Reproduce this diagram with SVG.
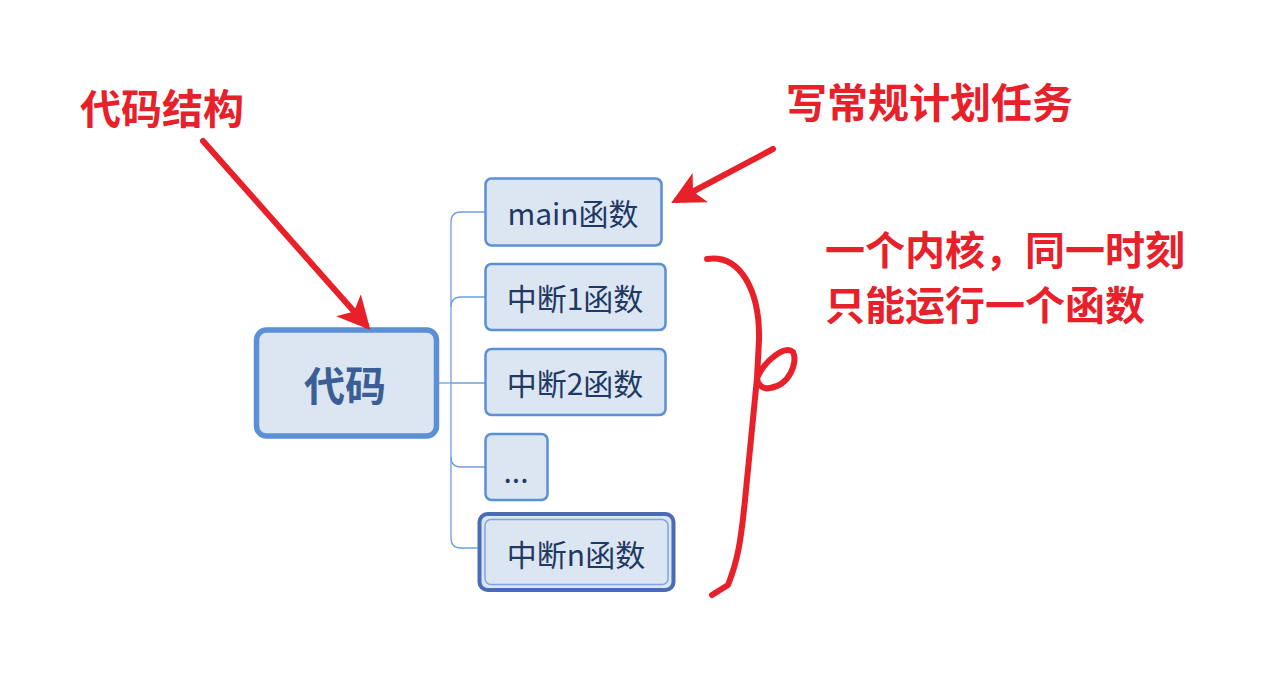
<svg xmlns="http://www.w3.org/2000/svg" width="1272" height="699" viewBox="0 0 1272 699">
<defs>
<style>
.node{fill:#dce6f2;stroke:#5b8fd6;stroke-width:2.5}
.t{font-family:"Noto Sans CJK SC","Noto Sans",sans-serif;fill:#1f3864;font-size:30px;text-anchor:middle;dominant-baseline:central}
.red{font-family:"Noto Sans CJK SC","Noto Sans",sans-serif;fill:#e8202a;font-weight:bold;font-size:41px}
.conn{fill:none;stroke:#6f9ee0;stroke-width:1.3}
.ann{fill:none;stroke:#e8202a;stroke-width:6;stroke-linecap:round;stroke-linejoin:round}
</style>
<marker id="ah" viewBox="0 0 10 10" refX="8" refY="5" markerWidth="5.5" markerHeight="5.5" orient="auto" markerUnits="strokeWidth">
<path d="M0,0 L10,5 L0,10 L2.5,5 Z" fill="#e8202a"/>
</marker>
</defs>
<rect width="1272" height="699" fill="#ffffff"/>

<g id="connectors">
<path class="conn" d="M437,383 H451"/>
<path class="conn" d="M485,212 H461 Q451,212 451,222 V538 Q451,548 461,548 H479"/>
<path class="conn" d="M485,297 H461 Q451,297 451,307"/>
<path class="conn" d="M485,467 H461 Q451,467 451,457"/>
<path class="conn" d="M451,383 H485"/>
</g>

<g id="root">
<rect x="256.5" y="330" width="180" height="106" rx="10" fill="#dce6f2" stroke="#5b8fd6" stroke-width="5.5"/>
<text x="345" y="383" class="t" style="font-size:41px;font-weight:bold;fill:#3a5f96">代码</text>
</g>

<g id="n-main">
<rect class="node" x="485.5" y="178.5" width="176" height="67" rx="6"/>
<text x="573" y="212" class="t">main函数</text>
</g>
<g id="n-int1">
<rect class="node" x="485.5" y="264" width="180" height="66" rx="6"/>
<text x="575" y="297" class="t">中断1函数</text>
</g>
<g id="n-int2">
<rect class="node" x="485.5" y="349" width="180" height="66" rx="6"/>
<text x="575" y="382" class="t">中断2函数</text>
</g>
<g id="n-dots">
<rect class="node" x="485.5" y="434" width="62" height="66" rx="6"/>
<text x="516" y="470" class="t">...</text>
</g>
<g id="n-intn">
<rect x="479.5" y="514" width="194" height="76" rx="8" fill="#dce6f2" stroke="#4a6cb8" stroke-width="4"/>
<rect x="485" y="519.5" width="183" height="65" rx="6" fill="none" stroke="#7aa6e4" stroke-width="1.5"/>
<text x="576" y="553" class="t">中断n函数</text>
</g>

<g id="annotations">
<text x="80" y="124" class="red">代码结构</text>
<text x="786" y="118" class="red">写常规计划任务</text>
<text x="825" y="265" class="red" style="font-size:40px">一个内核，同一时刻</text>
<text x="825" y="320" class="red" style="font-size:40px">只能运行一个函数</text>
<path class="ann" d="M203,141 L366,325" marker-end="url(#ah)"/>
<path class="ann" d="M773,149 L677,200" marker-end="url(#ah)"/>
<path class="ann" d="M707,259 C740,254 760,290 759,340 L757,378 C765,360 785,345 793,352 C798,362 790,385 770,388 C762,390 757,383 757,378 C752,430 748,470 745,500 C741,540 738,560 728,585 L712,595"/>
</g>
</svg>
